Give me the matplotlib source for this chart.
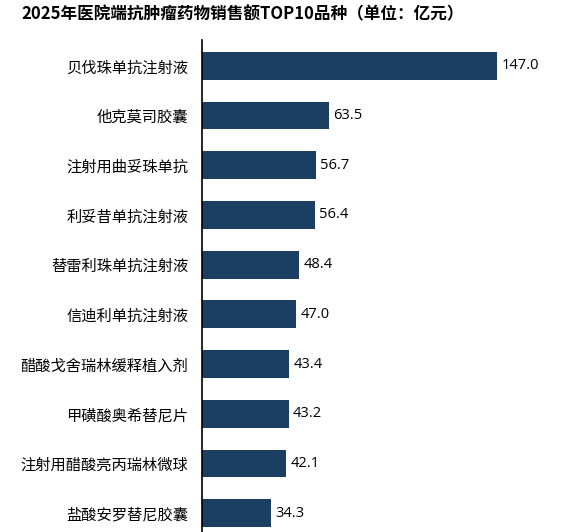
import matplotlib
matplotlib.use("Agg")
import matplotlib.pyplot as plt

plt.rcParams['font.family'] = ['Noto Sans CJK SC', 'DejaVu Sans']

categories = ["贝伐珠单抗注射液", "他克莫司胶囊", "注射用曲妥珠单抗", "利妥昔单抗注射液",
              "替雷利珠单抗注射液", "信迪利单抗注射液", "醋酸戈舍瑞林缓释植入剂",
              "甲磺酸奥希替尼片", "注射用醋酸亮丙瑞林微球", "盐酸安罗替尼胶囊"]
values = [147.0, 63.5, 56.7, 56.4, 48.4, 47.0, 43.4, 43.2, 42.1, 34.3]
title = "2025年医院端抗肿瘤药物销售额TOP10品种（单位：亿元）"

W, H = 562, 532
fig = plt.figure(figsize=(W/100, H/100), dpi=100)
left, right, top, bottom = 202, 562, 40, 532
ax = fig.add_axes([left/W, 1-bottom/H, (right-left)/W, (bottom-top)/H])

color = "#1B3F62"
ypos = list(range(len(categories)))
ax.barh(ypos, values, height=0.56, color=color)
ax.set_ylim(len(categories)-1+0.38, -0.52)
ax.set_xlim(0, (right-left)/2.007)
ax.set_yticks(ypos)
ax.set_yticklabels(categories, fontsize=11)
ax.tick_params(axis='y', length=0, pad=10)
ax.set_xticks([])
for s in ['top', 'right', 'bottom']:
    ax.spines[s].set_visible(False)
ax.spines['left'].set_linewidth(1.2)
ax.spines['left'].set_color('black')

for y, v in zip(ypos, values):
    ax.annotate(f"{v:.1f}", (v, y), xytext=(3, 0), textcoords='offset points',
                va='center', ha='left', fontsize=10.5, family=['Open Sans', 'DejaVu Sans'])

fig.text(243/W, 1-14/H, title, ha='center', va='center', fontsize=12, fontweight='bold')

fig.savefig("out.png", dpi=100)
